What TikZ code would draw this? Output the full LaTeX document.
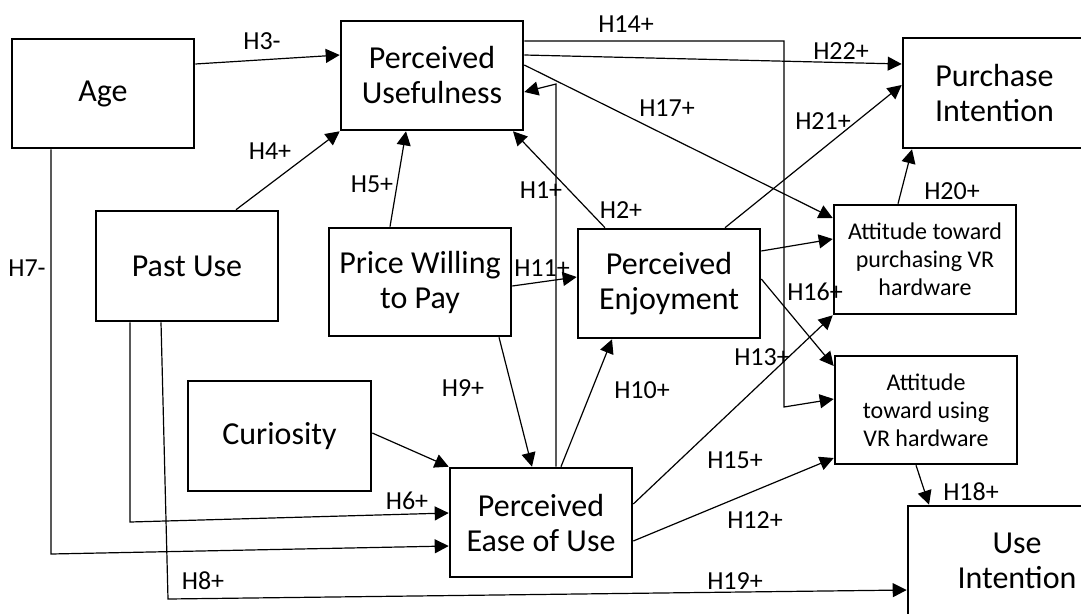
\documentclass[tikz,border=0pt]{standalone}
\usepackage{fontspec}
\setmainfont{Carlito}
\usetikzlibrary{arrows.meta}
\begin{document}
\begin{tikzpicture}[x=1pt,y=-1pt,
  box/.style={draw, fill=white, line width=2.6pt, inner sep=0pt, align=center,
    minimum width=182pt, minimum height=109pt, font=\fontsize{32}{35}\selectfont},
  smallbox/.style={box, font=\fontsize{24}{28}\selectfont},
  hyp/.style={inner sep=0pt, font=\fontsize{26}{28}\selectfont},
  link/.style={line width=1.2pt, -{Triangle[length=14pt,width=14pt]}}]
\useasboundingbox (0,0) rectangle (1081,613);
\clip (0,0) rectangle (1081,613);

% constructs
\node[box] (age)   at (103,93.5)  {Age};
\node[box] (pu)    at (432,75.5)  {Perceived\\Usefulness};
\node[box, minimum width=183pt, minimum height=110pt] (pi) at (994.5,93) {Purchase\\Intention};
\node[box, minimum height=110pt] (past) at (187,266) {Past Use};
\node[box, minimum height=108pt] (price) at (420,282) {Price Willing\\to Pay};
\node[box] (pe)    at (669,283.5) {Perceived\\Enjoyment};
\node[smallbox] (atp) at (925,259.5) {Attitude toward\\purchasing VR\\hardware};
\node[box, minimum width=183pt, minimum height=110pt] (cur) at (279.5,436) {Curiosity};
\node[box] (peou)  at (541,522.5) {Perceived\\Ease of Use};
\node[smallbox, minimum height=108pt] (atu) at (926,410) {Attitude\\toward using\\VR hardware};
\node[box, minimum width=218pt, minimum height=110pt] (ui) at (1017,561) {Use\\Intention};

% bend points of the routed paths
\coordinate (h1bend) at (556,84);
\coordinate (h6bend) at (130,522);
\coordinate (h7bend) at (51,554);
\coordinate (h8bend) at (168,599);
\coordinate (h14a) at (784,41);
\coordinate (h14b) at (784,407);

% hypothesised paths
\draw[link] ([yshift=29.5pt]age.east) -- ([yshift=20.5pt]pu.west);
\draw[link] ([xshift=49pt]past.north) -- (pu.south west);
\draw[link] ([xshift=-30pt]price.north) -- ([xshift=-26pt]pu.south);
\draw[link] ([xshift=15pt]peou.north) -- (h1bend) -- ([yshift=-16.5pt]pu.east);
\draw[link] ([xshift=-64pt]pe.north) -- ([xshift=81pt]pu.south);
\draw[link] ([yshift=-4pt]price.east) -- ([yshift=6.5pt]pe.west);
\draw[link] ([xshift=79pt]price.south) -- ([xshift=-9pt]peou.north);
\draw[link] ([yshift=3pt]cur.east) -- (peou.north west);
\draw[link] ([xshift=-57pt]past.south) -- (h6bend) -- ([yshift=9.5pt]peou.west);
\draw[link] ([xshift=-52pt]age.south) -- (h7bend) -- ([yshift=-23.5pt]peou.west);
\draw[link] ([xshift=-26pt]past.south) -- (h8bend) -- ([yshift=-29pt]ui.west);
\draw[link] ([xshift=20pt]peou.north) -- ([xshift=-57pt]pe.south);
\draw[link] ([yshift=18.5pt]peou.east) -- (atp.south west);
\draw[link] ([yshift=-18.5pt]peou.east) -- ([yshift=-48pt]atu.west);
\draw[link] ([yshift=34.5pt]pu.east) -- (h14a) -- (h14b) -- ([yshift=11pt]atu.west);
\draw[link] ([yshift=20.5pt]pu.east) -- ([yshift=29pt]pi.west);
\draw[link] ([yshift=10.5pt]pu.east) -- ([yshift=41.5pt]atp.west);
\draw[link] ([xshift=56pt]pe.north) -- ([yshift=8pt]pi.west);
\draw[link] ([yshift=32.5pt]pe.east) -- ([yshift=20.5pt]atp.west);
\draw[link] ([yshift=4.5pt]pe.east) -- ([yshift=44pt]atu.west);
\draw[link] ([xshift=-27pt]atp.north) -- ([xshift=-82.5pt]pi.south);
\draw[link] ([xshift=-10pt]atu.south) -- ([xshift=-88pt]ui.north);

% hypothesis labels
\node[hyp] (l1)  at (541,190) {H1+};
\node[hyp] (l2)  at (621,210) {H2+};
\node[hyp] (l3)  at (262,41)  {H3-};
\node[hyp] (l4)  at (270,151) {H4+};
\node[hyp] (l5)  at (372,184) {H5+};
\node[hyp] (l6)  at (407,501) {H6+};
\node[hyp] (l7)  at (27,268)  {H7-};
\node[hyp] (l8)  at (203,581) {H8+};
\node[hyp] (l9)  at (463,388) {H9+};
\node[hyp] (l10) at (642,390) {H10+};
\node[hyp] (l11) at (542,268) {H11+};
\node[hyp] (l12) at (755,520) {H12+};
\node[hyp] (l13) at (762,357) {H13+};
\node[hyp] (l14) at (626,24)  {H14+};
\node[hyp] (l15) at (735,460) {H15+};
\node[hyp] (l16) at (815,292) {H16+};
\node[hyp] (l17) at (667,108) {H17+};
\node[hyp] (l18) at (971,492) {H18+};
\node[hyp] (l19) at (735,581) {H19+};
\node[hyp] (l20) at (952,191) {H20+};
\node[hyp] (l21) at (823,121) {H21+};
\node[hyp] (l22) at (841,51)  {H22+};
\end{tikzpicture}
\end{document}
